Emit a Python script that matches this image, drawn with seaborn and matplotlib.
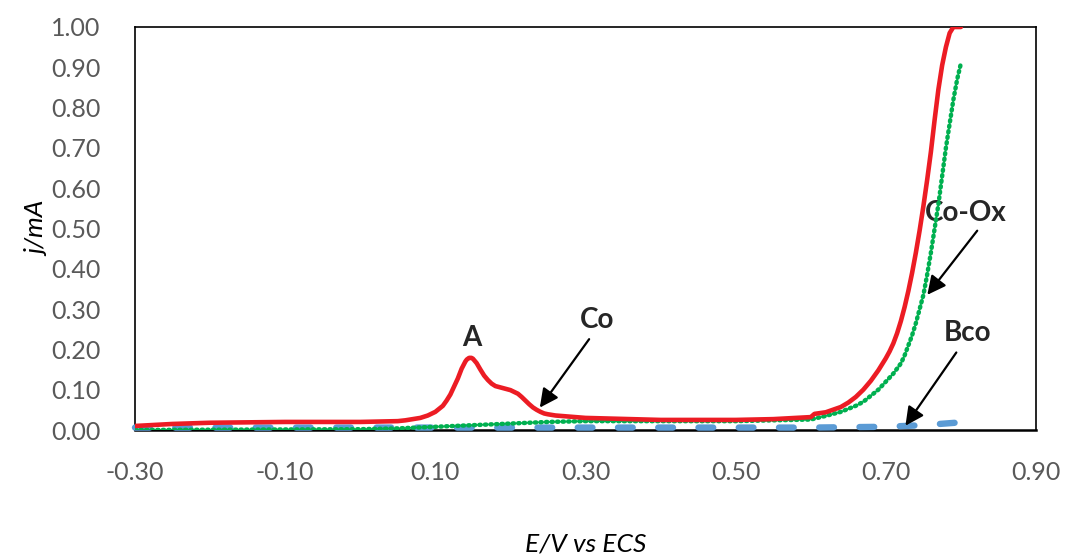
import numpy as np
import pandas as pd
import matplotlib
matplotlib.use('Agg')
import matplotlib.pyplot as plt
import seaborn as sns

# red curve (Co)
co_x = [-0.30, -0.25, -0.20, -0.10, 0.00, 0.05, 0.06, 0.08, 0.09, 0.10, 0.11, 0.115, 0.12,
        0.125, 0.13, 0.135, 0.14, 0.142, 0.145, 0.148, 0.15, 0.155, 0.16, 0.165, 0.17, 0.175,
        0.18, 0.19, 0.20, 0.21, 0.215, 0.22, 0.225, 0.23, 0.235, 0.24, 0.245, 0.25, 0.26,
        0.30, 0.40, 0.50, 0.55, 0.60, 0.605, 0.62, 0.64, 0.65, 0.66, 0.67, 0.68, 0.69, 0.70,
        0.705, 0.71, 0.715, 0.72, 0.725, 0.73, 0.735, 0.74, 0.745, 0.75, 0.755, 0.76, 0.765,
        0.77, 0.775, 0.78, 0.785, 0.79, 0.80]
co_y = [0.010, 0.015, 0.018, 0.020, 0.020, 0.022, 0.024, 0.030, 0.036, 0.045, 0.060, 0.073, 0.088,
        0.108, 0.128, 0.152, 0.170, 0.175, 0.179, 0.179, 0.177, 0.166, 0.150, 0.135, 0.124, 0.115,
        0.109, 0.104, 0.099, 0.090, 0.082, 0.073, 0.064, 0.056, 0.050, 0.045, 0.041, 0.039, 0.036,
        0.030, 0.025, 0.025, 0.027, 0.032, 0.040, 0.044, 0.057, 0.068, 0.082, 0.100, 0.122, 0.148, 0.178,
        0.195, 0.215, 0.240, 0.270, 0.305, 0.345, 0.390, 0.440, 0.495, 0.555, 0.620, 0.690, 0.770,
        0.845, 0.905, 0.950, 0.985, 1.000, 1.000]

# green dotted curve (Co-Ox)
coox_x = [-0.30, 0.00, 0.05, 0.10, 0.15, 0.20, 0.25, 0.30, 0.40, 0.50, 0.60, 0.62, 0.64,
          0.66, 0.67, 0.68, 0.69, 0.70, 0.71, 0.72, 0.725, 0.73, 0.735, 0.74, 0.745, 0.75,
          0.755, 0.76, 0.765, 0.77, 0.775, 0.78, 0.785, 0.79, 0.795, 0.80]
coox_y = [0.000, 0.002, 0.004, 0.008, 0.012, 0.016, 0.020, 0.022, 0.022, 0.022, 0.026, 0.035, 0.045,
          0.060, 0.070, 0.085, 0.100, 0.120, 0.140, 0.165, 0.185, 0.210, 0.235, 0.265, 0.300, 0.335,
          0.385, 0.440, 0.500, 0.560, 0.630, 0.700, 0.760, 0.820, 0.870, 0.910]

# blue dashed curve (Bco)
bco_x = [-0.30, 0.00, 0.30, 0.60, 0.70, 0.75, 0.80]
bco_y = [0.006, 0.006, 0.006, 0.006, 0.008, 0.012, 0.019]

y_ticks = [0.0, 0.1, 0.2, 0.3, 0.4, 0.5, 0.6, 0.7, 0.8, 0.9, 1.0]
x_ticks = [-0.30, -0.10, 0.10, 0.30, 0.50, 0.70, 0.90]

sns.set_style('white')
plt.rcParams['font.family'] = ['Lato', 'DejaVu Sans']

fig = plt.figure(figsize=(10.66, 5.59), dpi=100)
ax = fig.add_axes([135/1066, 129/559, 901/1066, 403/559])

df_co = pd.DataFrame({'E': co_x, 'j': co_y})
df_coox = pd.DataFrame({'E': coox_x, 'j': coox_y})
df_bco = pd.DataFrame({'E': bco_x, 'j': bco_y})

sns.lineplot(data=df_bco, x='E', y='j', ax=ax, color='#5B9BD5', lw=4.6,
             linestyle=(0, (2.3, 4.0)), dash_capstyle='round', clip_on=False, zorder=3)
sns.lineplot(data=df_coox, x='E', y='j', ax=ax, color='#00B050', lw=3.2,
             linestyle=(0, (0.3, 0.95)), dash_capstyle='round', zorder=4)
sns.lineplot(data=df_co, x='E', y='j', ax=ax, color='#EC1C24', lw=3.3, zorder=5,
             solid_joinstyle='round')

ax.set_xlim(-0.30, 0.90)
ax.set_ylim(0, 1.0)
ax.set_xticks(x_ticks)
ax.set_yticks(y_ticks)
ax.set_xticklabels([f'{v:.2f}' for v in x_ticks])
ax.set_yticklabels([f'{v:.2f}' for v in y_ticks])
ax.tick_params(axis='x', direction='in', length=6, width=1.2, pad=22,
               labelsize=18, labelcolor='#595959', color='black')
ax.tick_params(axis='y', direction='in', length=4, width=1.0, pad=25,
               labelsize=18, labelcolor='#595959', color='black')

for s in ax.spines.values():
    s.set_visible(True)
    s.set_color('black')
    s.set_linewidth(1.2)
ax.spines['bottom'].set_linewidth(1.8)

ax.set_xlabel('E/V vs ECS', fontsize=19, style='italic', color='black')
ax.set_ylabel('j/mA', fontsize=19, style='italic', color='black')
ax.xaxis.set_label_coords(0.5, -0.255)
ax.yaxis.set_label_coords(-0.095, 0.5)

arrow = dict(arrowstyle='-|>', mutation_scale=28, lw=1.6, color='black')
ax.text(0.149, 0.228, 'A', fontsize=20, fontweight='bold', ha='center', va='center')
ax.annotate('', xy=(0.237, 0.05), xytext=(0.307, 0.231), arrowprops=arrow)
ax.text(0.316, 0.273, 'Co', fontsize=20, fontweight='bold', ha='center', va='center')
ax.annotate('', xy=(0.753, 0.33), xytext=(0.824, 0.50), arrowprops=arrow)
ax.text(0.807, 0.538, 'Co-Ox', fontsize=20, fontweight='bold', ha='center', va='center')
ax.annotate('', xy=(0.724, 0.005), xytext=(0.796, 0.198), arrowprops=arrow)
ax.text(0.809, 0.24, 'Bco', fontsize=20, fontweight='bold', ha='center', va='center')

fig.savefig('out.png', dpi=100)
